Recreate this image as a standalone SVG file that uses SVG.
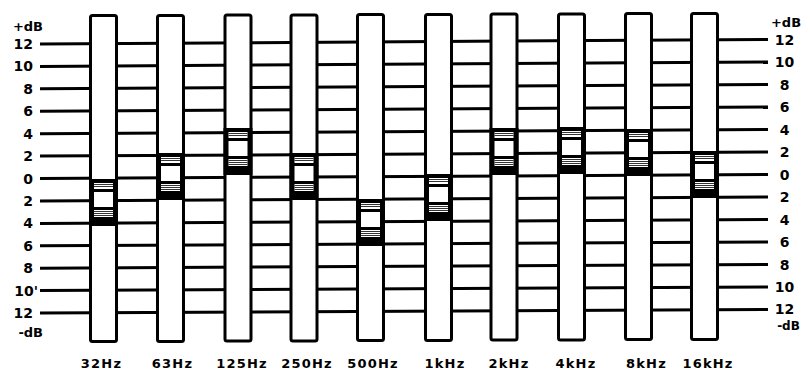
<svg xmlns="http://www.w3.org/2000/svg" xmlns:xlink="http://www.w3.org/1999/xlink" width="806" height="376" viewBox="0 0 806 376">
<style>
.bg{fill:#fff}
.scale line{stroke:#000;stroke-width:3}
.body{fill:#fff;stroke:#000;stroke-width:3}
.lbl{font-family:"DejaVu Sans","Liberation Sans",sans-serif;font-weight:bold;fill:#000}
.db{font-size:14px}
.unit{font-size:13px}
.unit2{font-size:12px}
.freq{font-size:13px;letter-spacing:1.2px;text-anchor:middle}
.l{text-anchor:end}
.r{text-anchor:middle}
.st{stroke:#333;stroke-width:1}
</style>
<defs>
<g id="knob">
<rect x="0" y="0" width="29" height="47" fill="#000"/>
<rect x="5" y="4" width="19" height="6" fill="#fff"/>
<line class="st" x1="5" y1="5.5" x2="24" y2="5.5"/>
<line class="st" x1="5" y1="7.5" x2="24" y2="7.5"/>
<rect x="5" y="13" width="19" height="15" fill="#fff"/>
<rect x="5" y="31" width="19" height="7" fill="#fff"/>
<line class="st" x1="5" y1="32.5" x2="24" y2="32.5"/>
<line class="st" x1="5" y1="34.5" x2="24" y2="34.5"/>
<line class="st" x1="5" y1="36.5" x2="24" y2="36.5"/>
</g>
</defs>
<rect class="bg" x="0" y="0" width="806" height="376"/>
<g id="scale-lines" class="scale">
<line x1="40" y1="44" x2="768" y2="39.5"/>
<line x1="40" y1="66.4" x2="768" y2="62"/>
<line x1="40" y1="88.8" x2="768" y2="84.5"/>
<line x1="40" y1="111.3" x2="768" y2="107"/>
<line x1="40" y1="133.7" x2="768" y2="129.5"/>
<line x1="40" y1="156.1" x2="768" y2="152"/>
<line x1="40" y1="178.5" x2="768" y2="174.5"/>
<line x1="40" y1="200.9" x2="768" y2="197"/>
<line x1="40" y1="223.4" x2="768" y2="219.5"/>
<line x1="40" y1="245.8" x2="768" y2="242"/>
<line x1="40" y1="268.2" x2="768" y2="264.5"/>
<line x1="40" y1="290.6" x2="768" y2="287"/>
<line x1="40" y1="313" x2="768" y2="309.5"/>
</g>
<g id="scale-left" class="lbl">
<text class="unit l" x="43" y="30.5">+dB</text>
<text class="db l" x="33" y="49">12</text>
<text class="db l" x="33" y="71.4">10</text>
<text class="db l" x="33" y="93.8">8</text>
<text class="db l" x="33" y="116.3">6</text>
<text class="db l" x="33" y="138.7">4</text>
<text class="db l" x="33" y="161.1">2</text>
<text class="db l" x="33" y="183.5">0</text>
<text class="db l" x="33" y="205.9">2</text>
<text class="db l" x="33" y="228.4">4</text>
<text class="db l" x="33" y="250.8">6</text>
<text class="db l" x="33" y="273.2">8</text>
<text class="db l" x="38" y="295.6">10'</text>
<text class="db l" x="33" y="318">12</text>
<text class="unit l" x="43" y="337">-dB</text>
</g>
<g id="scale-right" class="lbl">
<text class="unit r" x="786" y="26.5">+dB</text>
<text class="db r" x="784.5" y="44.5">12</text>
<text class="db r" x="784.5" y="67">10</text>
<text class="db r" x="784.5" y="89.5">8</text>
<text class="db r" x="784.5" y="112">6</text>
<text class="db r" x="784.5" y="134.5">4</text>
<text class="db r" x="784.5" y="157">2</text>
<text class="db r" x="784.5" y="179.5">0</text>
<text class="db r" x="784.5" y="202">2</text>
<text class="db r" x="784.5" y="224.5">4</text>
<text class="db r" x="784.5" y="247">6</text>
<text class="db r" x="784.5" y="269.5">8</text>
<text class="db r" x="784.5" y="292">10</text>
<text class="db r" x="784.5" y="313.5">12</text>
<text class="unit2 r" x="788.5" y="330">-dB</text>
</g>
<g id="slider-32Hz">
<rect class="body" x="90.5" y="15.5" width="26" height="326" rx="2"/>
<use xlink:href="#knob" href="#knob" x="89" y="179"/>
<text class="lbl freq" x="101.5" y="368">32Hz</text>
</g>
<g id="slider-63Hz">
<rect class="body" x="157.5" y="15.5" width="26" height="326" rx="2"/>
<use xlink:href="#knob" href="#knob" x="156" y="153"/>
<text class="lbl freq" x="172.5" y="368">63Hz</text>
</g>
<g id="slider-125Hz">
<rect class="body" x="225" y="15" width="26" height="326" rx="2"/>
<use xlink:href="#knob" href="#knob" x="223.5" y="128"/>
<text class="lbl freq" x="242" y="368">125Hz</text>
</g>
<g id="slider-250Hz">
<rect class="body" x="291" y="15" width="26" height="326" rx="2"/>
<use xlink:href="#knob" href="#knob" x="289.5" y="153"/>
<text class="lbl freq" x="307" y="368">250Hz</text>
</g>
<g id="slider-500Hz">
<rect class="body" x="357.5" y="14.5" width="26" height="326" rx="2"/>
<use xlink:href="#knob" href="#knob" x="356" y="199"/>
<text class="lbl freq" x="373" y="368">500Hz</text>
</g>
<g id="slider-1kHz">
<rect class="body" x="425.5" y="14.5" width="26" height="326" rx="2"/>
<use xlink:href="#knob" href="#knob" x="424" y="174"/>
<text class="lbl freq" x="445" y="368">1kHz</text>
</g>
<g id="slider-2kHz">
<rect class="body" x="491" y="14" width="26" height="326" rx="2"/>
<use xlink:href="#knob" href="#knob" x="489.5" y="128"/>
<text class="lbl freq" x="509" y="368">2kHz</text>
</g>
<g id="slider-4kHz">
<rect class="body" x="558.5" y="14" width="26" height="326" rx="2"/>
<use xlink:href="#knob" href="#knob" x="557" y="127"/>
<text class="lbl freq" x="576" y="368">4kHz</text>
</g>
<g id="slider-8kHz">
<rect class="body" x="625.5" y="13.5" width="26" height="326" rx="2"/>
<use xlink:href="#knob" href="#knob" x="624" y="129"/>
<text class="lbl freq" x="646.5" y="368">8kHz</text>
</g>
<g id="slider-16kHz">
<rect class="body" x="691.5" y="13.5" width="26" height="326" rx="2"/>
<use xlink:href="#knob" href="#knob" x="690" y="151"/>
<text class="lbl freq" x="708" y="368">16kHz</text>
</g>
</svg>
